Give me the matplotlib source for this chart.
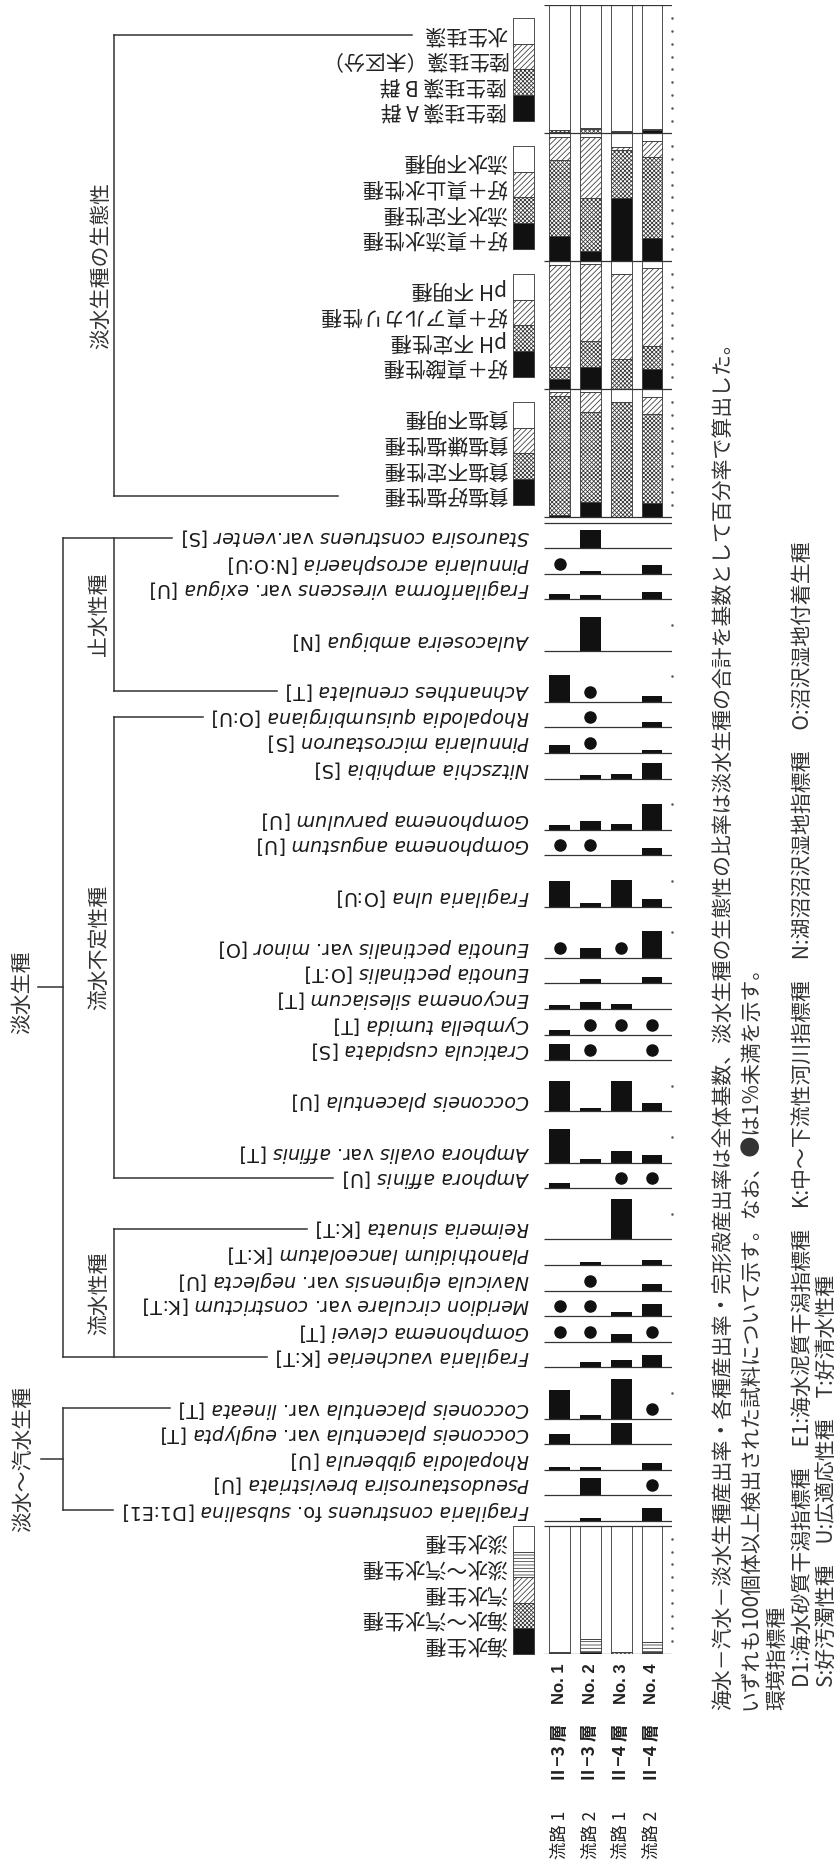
import math
import matplotlib
matplotlib.use('Agg')
import matplotlib.pyplot as plt
from matplotlib.patches import Rectangle
from matplotlib.transforms import blended_transform_factory

plt.rcParams['font.family'] = ['Noto Sans CJK JP', 'DejaVu Sans']
plt.rcParams['mathtext.fontset'] = 'custom'
plt.rcParams['mathtext.it'] = 'DejaVu Sans:italic'
plt.rcParams['mathtext.rm'] = 'DejaVu Sans'
plt.rcParams['hatch.linewidth'] = 0.55
plt.rcParams['hatch.color'] = '#1a1a1a'

# ---- samples
route = ['流路 1', '流路 2', '流路 1', '流路 2']
layer = ['Ⅱ−3 層', 'Ⅱ−3 層', 'Ⅱ−4 層', 'Ⅱ−4 層']
sample_no = ['No. 1', 'No. 2', 'No. 3', 'No. 4']


def it(s):
    return r'$\mathit{' + s.replace(' ', r'\ ') + '}$'


# ---- species (top -> bottom), values in %, 0.5 = "< 1 %" (dot)
D = 0.5
species = [
    it('Staurosira construens') + ' var.' + it('venter') + ' [S]',
    it('Pinnularia acrosphaeria') + ' [N:O:U]',
    it('Fragilariforma virescens') + ' var. ' + it('exigua') + ' [U]',
    it('Aulacoseira ambigua') + ' [N]',
    it('Achnanthes crenulata') + ' [T]',
    it('Rhopalodia quisumbirgiana') + ' [O:U]',
    it('Pinnularia microstauron') + ' [S]',
    it('Nitzschia amphibia') + ' [S]',
    it('Gomphonema parvulum') + ' [U]',
    it('Gomphonema angustum') + ' [U]',
    it('Fragilaria ulna') + ' [O:U]',
    it('Eunotia pectinalis') + ' var. ' + it('minor') + ' [O]',
    it('Eunotia pectinalis') + ' [O:T]',
    it('Encyonema silesiacum') + ' [T]',
    it('Cymbella tumida') + ' [T]',
    it('Craticula cuspidata') + ' [S]',
    it('Cocconeis placentula') + ' [U]',
    it('Amphora ovalis') + ' var. ' + it('affinis') + ' [T]',
    it('Amphora affinis') + ' [U]',
    it('Reimeria sinuata') + ' [K:T]',
    it('Planothidium lanceolatum') + ' [K:T]',
    it('Navicula elginensis') + ' var. ' + it('neglecta') + ' [U]',
    it('Meridion circulare') + ' var. ' + it('constrictum') + ' [K:T]',
    it('Gomphonema clevei') + ' [T]',
    it('Fragilaria vaucheriae') + ' [K:T]',
    it('Cocconeis placentula') + ' var. ' + it('lineata') + ' [T]',
    it('Cocconeis placentula') + ' var. ' + it('euglypta') + ' [T]',
    it('Rhopalodia gibberula') + ' [U]',
    it('Pseudostaurosira brevistriata') + ' [U]',
    it('Fragilaria construens') + ' fo. ' + it('subsalina') + ' [D1:E1]',
]
no1 = [0, D, 4.1, 0, 21.1, 0, 6.3, 0, 3.3, D, 20.0, D, 0, 2.7, 3.6,
       12.3, 23.8, 25.8, 4.1, 0, 0, 0, D, D, 0, 22.0, 7.7, 2.5, 0, 0]
no2 = [14.2, 2.5, 3.0, 26.0, D, D, D, 2.7, 6.9, D, 2.7, 7.4, 3.3, 5.2, D,
       D, 2.7, 3.0, 0, 0, 2.5, D, D, D, 4.4, 2.7, 0, 2.5, 13.7, 2.2]
no3 = [0, 0, 0, 0, 0, 0, 0, 3.3, 4.1, 0, 20.9, D, 0, 3.8, D,
       0, 23.3, 9.1, D, 31.5, 0, 0, 3.0, 5.8, 6.0, 30.7, 16.7, 0, 0, 0]
no4 = [0, 7.1, 5.8, 0, 4.7, 3.8, 2.5, 11.8, 20.3, 5.8, 5.8, 20.5, 4.9, 0, D,
       D, 6.6, 6.0, D, 0, 3.6, 4.9, 9.8, D, 9.8, D, 0, 5.5, D, 10.2]
values = [no1, no2, no3, no4]

# ---- freshwater ecology (bottom -> top of each stacked bar)
life_a = [1.0, 0.5, 1.2, 2.5]
life_b = [1.5, 3.0, 0.5, 0.5]
life_u = [0.5, 1.0, 0.0, 0.6]
aquatic = [97.0, 95.5, 98.3, 96.4]
life_labels = ['陸生珪藻 A 群', '陸生珪藻 B 群', '陸生珪藻（未区分）', '水生珪藻']

cur_rheo = [19.5, 8.1, 49.3, 18.1]
cur_ind = [60.0, 41.2, 37.6, 63.2]
cur_limno = [17.3, 47.9, 2.8, 13.1]
cur_unk = [3.2, 2.8, 10.3, 5.6]
cur_labels = ['好＋真流水性種', '流水不定性種', '好＋真止水性種', '流水不明種']

ph_acid = [8.4, 17.6, 0.0, 15.9]
ph_ind = [9.2, 20.1, 23.7, 18.2]
ph_alk = [79.6, 60.1, 66.5, 60.9]
ph_unk = [2.8, 2.2, 9.8, 5.0]
ph_labels = ['好＋真酸性種', 'pH 不定性種', '好＋真アルカリ性種', 'pH 不明種']

salt_phil = [2.0, 11.8, 0.0, 10.9]
salt_ind = [93.0, 70.9, 90.2, 69.5]
salt_phob = [3.0, 15.1, 0.0, 14.0]
salt_unk = [2.0, 2.2, 9.8, 5.6]
salt_labels = ['貧塩好塩性種', '貧塩不定性種', '貧塩嫌塩性種', '貧塩不明種']

# ---- salinity groups (bottom -> top)
marine = [0.3, 1.3, 0.3, 0.8]
marine_brackish = [0.3, 0.0, 1.2, 0.5]
brackish = [0.0, 0.0, 0.0, 0.0]
fresh_brackish = [1.2, 10.4, 0.3, 7.8]
fresh = [98.2, 88.3, 98.2, 90.9]
sal_labels = ['海水生種', '海水～汽水生種', '汽水生種', '淡水～汽水生種', '淡水生種']

footnote = [
    '海水－汽水－淡水生種産出率・各種産出率・完形殻産出率は全体基数、淡水生種の生態性の比率は淡水生種の合計を基数として百分率で算出した。',
    'いずれも100個体以上検出された試料について示す。なお、●は1%未満を示す。',
    '環境指標種',
    'D1:海水砂質干潟指標種　E1:海水泥質干潟指標種　K:中～下流性河川指標種　N:湖沼沼沢湿地指標種　O:沼沢湿地付着生種',
    'S:好汚濁性種　U:広適応性種　T:好清水性種',
]

# ---- layout (vertical axis in % units, 20 % per row unit)
W, H = 838, 1863
S4 = [('#111111', None), ('white', 'xxxxxxxx'), ('white', '//////'), ('white', None)]
S5 = [('#111111', None), ('white', 'xxxxxxxx'), ('white', '//////'),
      ('white', '-----'), ('white', None)]
blocks = [
    (0, [life_a, life_b, life_u, aquatic], life_labels),
    (100, [cur_rheo, cur_ind, cur_limno, cur_unk], cur_labels),
    (200, [ph_acid, ph_ind, ph_alk, ph_unk], ph_labels),
    (300, [salt_phil, salt_ind, salt_phob, salt_unk], salt_labels),
]
SP_TOP = 404
units, baselines = [], []
cur = SP_TOP
for i in range(len(species)):
    u = max(1, math.ceil(max(v[i] for v in values) / 20))
    cur += 20 * u
    units.append(u)
    baselines.append(cur)
SAL_TOP = cur + 4
SAL_BOT = SAL_TOP + 100

top_px, px_per = 5.4, 1.28
fig = plt.figure(figsize=(W / 100, H / 100), dpi=100)
ov = fig.add_axes([0, 0, 1, 1])
ov.set_xlim(0, W)
ov.set_ylim(H, 0)
ov.axis('off')
ax_h = SAL_BOT * px_per
ax = fig.add_axes([544.3 / W, 1 - (top_px + ax_h) / H, 128 / W, ax_h / H])
ax.set_xlim(-0.5, 3.66)
ax.set_ylim(SAL_BOT, 0)
ax.axis('off')
xs = [0, 1, 2, 3]
BW = 0.68
XR = 3.66
LC = '#333333'

bt = blended_transform_factory(ov.transData, ax.transData)
bt2 = blended_transform_factory(ax.transData, ov.transData)


def stacked(cats, styles, base):
    cum = [0.0] * 4
    for vals, (fc, hatch) in zip(cats, styles):
        for j in xs:
            v = vals[j]
            if v > 0:
                ax.bar(j, v, bottom=base - cum[j] - v, width=BW, color=fc,
                       hatch=hatch, edgecolor=LC, linewidth=0.6)
            cum[j] += v


def legend(patch_bottoms, labels, styles):
    for yb, lab, (fc, hatch) in zip(patch_bottoms, labels, styles):
        ov.add_patch(Rectangle((513.3, yb - 20), 20.7, 20, transform=bt, facecolor=fc,
                               hatch=hatch, edgecolor=LC, linewidth=0.6, clip_on=False))
        ov.text(507, yb - 10 + 2, lab, transform=bt, rotation=180, ha='right',
                va='center', fontsize=15, color='#222222')


for top, cats, labs in blocks:
    stacked(cats, S4, top + 100)
    legend([top + 90 - 20 * k for k in range(4)], labs, S4)
    ax.plot([XR] * 9, [top + 10 * k for k in range(1, 10)], '.', ms=1.6,
            color='#555555', clip_on=False)

stacked([marine, marine_brackish, brackish, fresh_brackish, fresh], S5, SAL_BOT)
legend([SAL_BOT - 20 * k for k in range(5)], sal_labels, S5)
ax.plot([XR] * 9, [SAL_TOP + 10 * k for k in range(1, 10)], '.', ms=1.6,
        color='#555555', clip_on=False)

ax.hlines([0, 100, 200, 300, 400, SP_TOP, SAL_TOP, SAL_BOT], -0.5, XR, color=LC, lw=0.9)
ax.hlines(baselines, -0.5, XR, color=LC, lw=0.9)

# species bars and dots
for j in xs:
    for i, b in enumerate(baselines):
        v = values[j][i]
        if v >= 1:
            ax.bar(j, v, bottom=b - v, width=BW, color='#111111', linewidth=0)
        elif v > 0:
            ax.plot(j, b - 7.8, 'o', ms=8, color='#111111')
for b, u in zip(baselines, units):
    if u > 1:
        ax.plot([XR] * (u - 1), [b - 20 * k for k in range(1, u)], '.', ms=1.6,
                color='#555555', clip_on=False)

# species labels
label_y = [b - 8.2 for b in baselines]
sp_text = []
for lab, y in zip(species, label_y):
    sp_text.append(ov.text(530, y, lab, transform=bt, rotation=180, ha='right',
                           va='center', fontsize=13.8, family='DejaVu Sans',
                           color='#1a1a1a'))

# sample labels
for j in xs:
    ov.text(j, 1684, sample_no[j], transform=bt2, rotation=90, ha='center', va='center',
            fontsize=12, fontweight='bold', family='Liberation Sans', color='#222222')
    ov.text(j, 1753, layer[j], transform=bt2, rotation=90, ha='center', va='center',
            fontsize=12.5, fontweight='bold', color='#222222')
    ov.text(j, 1835, route[j], transform=bt2, rotation=90, ha='center', va='center',
            fontsize=12.5, color='#222222')

# classification tree
fig.canvas.draw()
rend = fig.canvas.get_renderer()
lab_left = [t.get_window_extent(rend).x0 - 9 for t in sp_text]
X1, X2 = 63.3, 114.3


def hline(x0, x1, y):
    ov.plot([x0, x1], [y, y], transform=bt, color=LC, lw=1.1)


def vline(x, y0, y1):
    ov.plot([x, x], [y0, y1], transform=bt, color=LC, lw=1.1)


def group(text, x, y, tr=bt):
    ov.text(x, y, text, transform=tr, rotation=90, ha='center', va='center',
            fontsize=15, color='#333333')


vline(X1, label_y[0], label_y[24])
hline(X1, lab_left[0], label_y[0])
hline(X1, lab_left[24], label_y[24])
ov.plot([38.3, X1], [987.3, 987.3], color=LC, lw=1.1)
group('淡水生種', 22, 992, ov.transData)

vline(X2, label_y[0], label_y[4])
hline(X2, lab_left[4], label_y[4])
group('止水性種', 99, (label_y[0] + label_y[4]) / 2)

vline(X2, label_y[5], label_y[18])
hline(X2, lab_left[5], label_y[5])
hline(X2, lab_left[18], label_y[18])
group('流水不定性種', 99, (label_y[5] + label_y[18]) / 2)

vline(X2, label_y[19], label_y[24])
hline(X2, lab_left[19], label_y[19])
group('流水性種', 99, (label_y[19] + label_y[24]) / 2)

vline(X1, label_y[25], label_y[29])
hline(X1, lab_left[25], label_y[25])
hline(X1, lab_left[29], label_y[29])
mid = (label_y[25] + label_y[29]) / 2
hline(40.7, X1, mid)
group('淡水～汽水生種', 23, mid)

eco_top, eco_bot = 23, 383
vline(X2, eco_top, eco_bot)
hline(X2, 412, eco_top)
hline(X2, 338, eco_bot)
group('淡水生種の生態性', 101, (eco_top + eco_bot) / 2)

# footnote
fx = [723, 750, 777, 803, 827]
fy = [1710, 1710, 1710, 1687, 1687]
for x, y, s in zip(fx, fy, footnote):
    ov.text(x, y, s, rotation=90, ha='center', va='bottom', fontsize=15, color='#333333')

fig.savefig('out.png', dpi=100)
